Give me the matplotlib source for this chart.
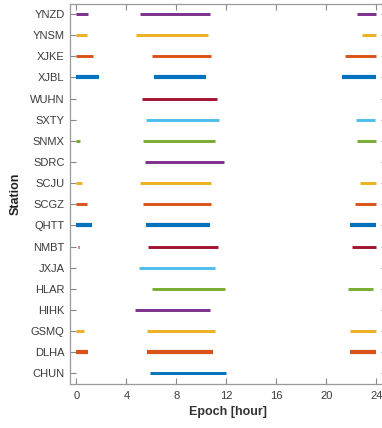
import matplotlib
matplotlib.use("Agg")
import matplotlib.pyplot as plt

# stations from bottom to top
stations = ["CHUN", "DLHA", "GSMQ", "HIHK", "HLAR", "JXJA", "NMBT", "QHTT", "SCGZ",
            "SCJU", "SDRC", "SNMX", "SXTY", "WUHN", "XJBL", "XJKE", "YNSM", "YNZD"]

# observation arcs (start hour, end hour) per station
arcs = {
    "CHUN": [(5.85, 11.95)],
    "DLHA": [(0.0, 0.9), (5.65, 10.9), (21.9, 24.0)],
    "GSMQ": [(0.0, 0.6), (5.65, 11.1), (21.9, 24.0)],
    "HIHK": [(4.65, 10.7)],
    "HLAR": [(6.05, 11.85), (21.7, 23.7)],
    "JXJA": [(5.0, 11.1)],
    "NMBT": [(0.1, 0.2), (5.7, 11.3), (22.05, 24.0)],
    "QHTT": [(0.0, 1.25), (5.6, 10.65), (21.9, 24.0)],
    "SCGZ": [(0.0, 0.85), (5.3, 10.8), (22.25, 24.0)],
    "SCJU": [(0.0, 0.45), (5.1, 10.8), (22.7, 24.0)],
    "SDRC": [(5.5, 11.8)],
    "SNMX": [(0.0, 0.27), (5.3, 11.05), (22.45, 24.0)],
    "SXTY": [(5.6, 11.4), (22.4, 23.85)],
    "WUHN": [(5.25, 11.25)],
    "XJBL": [(0.0, 1.8), (6.2, 10.4), (21.25, 24.0)],
    "XJKE": [(0.0, 1.3), (6.05, 10.8), (21.45, 24.0)],
    "YNSM": [(0.0, 0.85), (4.8, 10.5), (22.85, 24.0)],
    "YNZD": [(0.0, 0.9), (5.1, 10.65), (22.45, 24.0)],
}

colors = ["#0072BD", "#D95319", "#EDB120", "#7E2F8E", "#77AC30", "#4DBEEE", "#A2142F"]
thick = {"XJBL", "QHTT", "DLHA"}

plt.rcParams['font.family'] = ['Liberation Sans', 'DejaVu Sans']

fig = plt.figure(figsize=(3.82, 4.28), dpi=100)
# right edge of the box falls just outside the picture, as in the reference
ax = fig.add_axes([69.5 / 382, 44 / 428, (386.5 - 69.5) / 382, (384 - 3.5) / 428])

for i, st in enumerate(stations):
    c = colors[i % len(colors)]
    lw = 3.0 if st in thick else 2.1
    for s, e in arcs[st]:
        ax.plot([s, e], [i + 1, i + 1], color=c, lw=lw, solid_capstyle='butt')

ax.set_xlim(-0.55, 24.81)
ax.set_ylim(0.5, len(stations) + 0.5)
ax.set_xticks([0, 4, 8, 12, 16, 20, 24])
ax.set_yticks(range(1, len(stations) + 1))
ax.set_yticklabels(stations)
ax.tick_params(direction='in', length=4, width=0.8, color='#888888',
               labelcolor='#3a3a3a', labelsize=8, top=True, right=True)
ax.tick_params(axis='x', pad=5)
for sp in ax.spines.values():
    sp.set_color('#999999')
    sp.set_linewidth(0.9)

ax.set_xlabel("Epoch [hour]", fontsize=9, fontweight='bold', color='#333333', labelpad=4)
ax.set_ylabel("Station", fontsize=9, fontweight='bold', color='#222222', labelpad=6)

fig.savefig("out.png", dpi=100)
